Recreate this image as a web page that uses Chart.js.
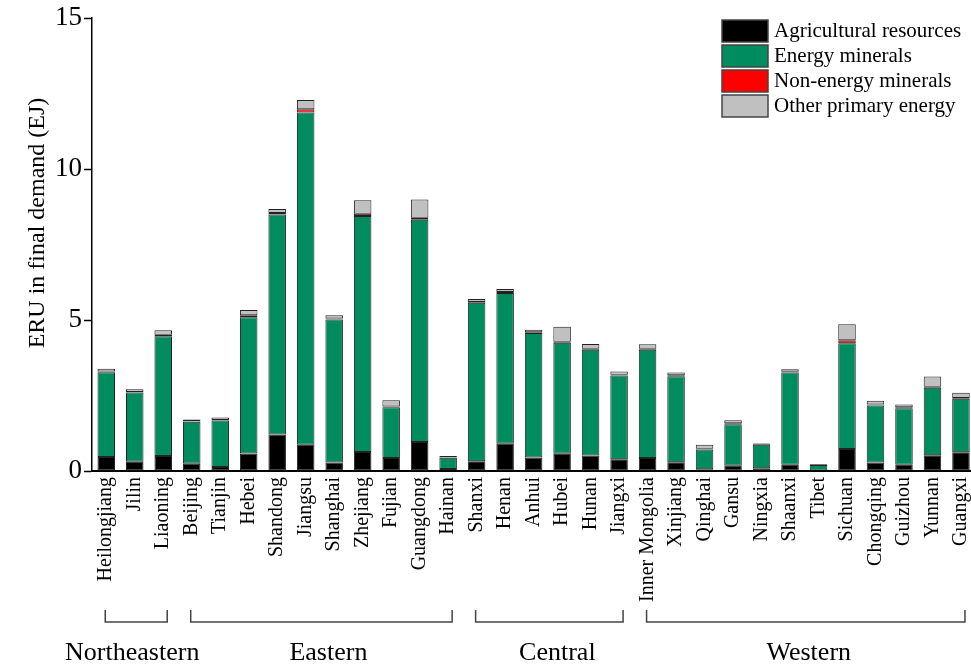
<!DOCTYPE html>
<html>
<head>
<meta charset="utf-8">
<script src="https://cdn.jsdelivr.net/npm/chart.js@4.4.1/dist/chart.umd.min.js"></script>
<style>
    html, body { margin: 0; padding: 0; background: #fff; overflow: hidden; }
    #wrap { width: 991px; height: 668px; }
</style>
</head>
<body>
<div id="wrap"><canvas id="eru" width="991" height="668"></canvas></div>
<script>
const provinces = ['Heilongjiang', 'Jilin', 'Liaoning', 'Beijing', 'Tianjin', 'Hebei', 'Shandong',
    'Jiangsu', 'Shanghai', 'Zhejiang', 'Fujian', 'Guangdong', 'Hainan', 'Shanxi', 'Henan', 'Anhui',
    'Hubei', 'Hunan', 'Jiangxi', 'Inner Mongolia', 'Xinjiang', 'Qinghai', 'Gansu', 'Ningxia',
    'Shaanxi', 'Tibet', 'Sichuan', 'Chongqing', 'Guizhou', 'Yunnan', 'Guangxi'];

// EJ
const agricultural = [0.46, 0.31, 0.50, 0.24, 0.13, 0.58, 1.21, 0.87, 0.28, 0.63, 0.43, 0.96, 0.07,
    0.32, 0.90, 0.45, 0.57, 0.51, 0.39, 0.43, 0.29, 0.06, 0.17, 0.09, 0.21, 0.02, 0.73, 0.28, 0.21, 0.52, 0.62];
const energyMinerals = [2.81, 2.29, 3.96, 1.39, 1.54, 4.51, 7.29, 11.01, 4.74, 7.82, 1.68, 7.36, 0.37,
    5.25, 5.00, 4.12, 3.68, 3.51, 2.77, 3.59, 2.85, 0.65, 1.38, 0.78, 3.05, 0.18, 3.50, 1.89, 1.87, 2.24, 1.77];
const nonEnergyMinerals = [0.03, 0.02, 0.05, 0.01, 0.02, 0.07, 0.05, 0.10, 0.03, 0.07, 0.03, 0.07, 0.01,
    0.03, 0.03, 0.03, 0.03, 0.03, 0.03, 0.03, 0.03, 0.03, 0.03, 0.03, 0.03, 0.01, 0.10, 0.03, 0.03, 0.03, 0.03];
const otherPrimary = [0.09, 0.09, 0.15, 0.07, 0.08, 0.17, 0.13, 0.31, 0.11, 0.45, 0.20, 0.60, 0.05,
    0.10, 0.10, 0.08, 0.50, 0.16, 0.11, 0.15, 0.09, 0.13, 0.10, 0.02, 0.08, 0.02, 0.53, 0.13, 0.09, 0.34, 0.17];

const yTicks = [0, 5, 10, 15];

// regions as [name, first province index, last province index]
const regions = [
    ['Northeastern', 0, 2],
    ['Eastern', 3, 12],
    ['Central', 13, 18],
    ['Western', 19, 30]
];

const serif = '"Liberation Serif", "Times New Roman", serif';
const regionLabelShift = [-4, 7, 8, 3];

// legend drawn inside the plot, top right
const boxLegend = {
    id: 'boxLegend',
    afterDraw(chart) {
        const ctx = chart.ctx;
        ctx.save();
        ctx.font = '21px ' + serif;
        ctx.textBaseline = 'middle';
        ctx.textAlign = 'left';
        chart.data.datasets.forEach((ds, i) => {
            const y = 20 + i * 25;
            ctx.fillStyle = ds.backgroundColor;
            ctx.fillRect(722, y, 46, 22);
            ctx.lineWidth = 1.5;
            ctx.strokeStyle = '#444';
            ctx.strokeRect(722, y, 46, 22);
            ctx.fillStyle = '#000';
            ctx.fillText(ds.label, 774, y + 11);
        });
        ctx.restore();
    }
};

// y title and the region brackets under the province names
const extras = {
    id: 'extras',
    afterDraw(chart) {
        const ctx = chart.ctx;
        const x = chart.scales.x;
        ctx.save();
        ctx.fillStyle = '#000';
        ctx.font = '24px ' + serif;
        ctx.translate(44, 223);
        ctx.rotate(-Math.PI / 2);
        ctx.textAlign = 'center';
        ctx.fillText('ERU in final demand (EJ)', 0, 0);
        ctx.restore();

        ctx.save();
        ctx.strokeStyle = '#444';
        ctx.lineWidth = 1.5;
        ctx.fillStyle = '#000';
        ctx.font = '26px ' + serif;
        ctx.textAlign = 'center';
        regions.forEach(([name, a, b], i) => {
            const x0 = x.getPixelForValue(a) - 1;
            const x1 = x.getPixelForValue(b) + 4;
            ctx.beginPath();
            ctx.moveTo(x0, 610);
            ctx.lineTo(x0, 622);
            ctx.lineTo(x1, 622);
            ctx.lineTo(x1, 610);
            ctx.stroke();
            ctx.fillText(name, (x0 + x1) / 2 + regionLabelShift[i], 660);
        });
        ctx.restore();
    }
};

const seg = (label, data, color) => ({
    label: label,
    data: data,
    backgroundColor: color,
    borderColor: '#222',
    borderWidth: 1,
    borderSkipped: false,
    categoryPercentage: 1,
    barPercentage: 0.615
});

new Chart(document.getElementById('eru').getContext('2d'), {
    type: 'bar',
    data: {
        labels: provinces,
        datasets: [
            seg('Agricultural resources', agricultural, '#000000'),
            seg('Energy minerals', energyMinerals, '#008C5E'),
            seg('Non-energy minerals', nonEnergyMinerals, '#FF0000'),
            seg('Other primary energy', otherPrimary, '#C0C0C0')
        ]
    },
    options: {
        responsive: false,
        animation: false,
        devicePixelRatio: 1,
        layout: {padding: {top: 18, right: 2, left: 0, bottom: 0}},
        plugins: {legend: {display: false}, tooltip: {enabled: false}},
        scales: {
            x: {
                stacked: true,
                grid: {display: true, drawOnChartArea: false, drawTicks: false},
                border: {display: true, color: '#000', width: 2},
                ticks: {
                    autoSkip: false,
                    minRotation: 90,
                    maxRotation: 90,
                    padding: 6,
                    color: '#000',
                    font: {family: serif, size: 20}
                },
                afterFit(scale) { scale.height = 197; }
            },
            y: {
                stacked: true,
                min: 0,
                max: 15,
                afterBuildTicks(scale) { scale.ticks = yTicks.map(v => ({value: v})); },
                grid: {display: true, drawOnChartArea: false, drawTicks: true, tickLength: 8, tickColor: '#000', tickWidth: 1.5},
                border: {display: true, color: '#000', width: 1.5},
                ticks: {
                    padding: 2,
                    color: '#000',
                    font: {family: serif, size: 27}
                },
                afterFit(scale) { scale.width = 92; }
            }
        }
    },
    plugins: [boxLegend, extras]
});
</script>
</body>
</html>
